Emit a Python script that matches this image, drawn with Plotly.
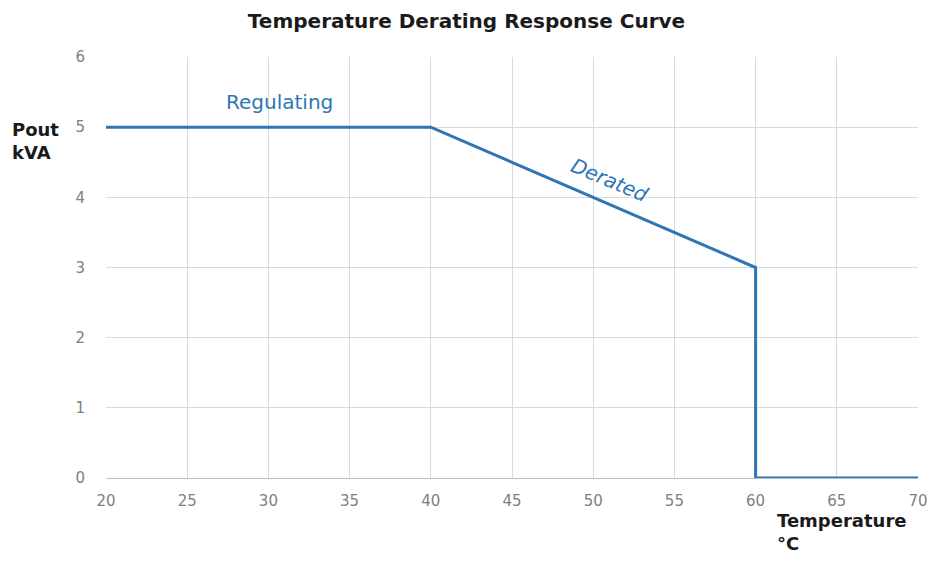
import plotly.graph_objects as go

temperature = [20, 40, 60, 60, 70]
pout_kva = [5, 5, 3, 0, 0]
x_ticks = [20, 25, 30, 35, 40, 45, 50, 55, 60, 65, 70]
y_ticks = [0, 1, 2, 3, 4, 5, 6]

FONT = "'DejaVu Sans', sans-serif"
BLUE = "#2E75B6"
TICK_GREY = "#7f7f7f"

fig = go.Figure()
fig.add_trace(go.Scatter(x=temperature, y=pout_kva, mode="lines",
                         line=dict(color=BLUE, width=3), showlegend=False,
                         hoverinfo="x+y"))

fig.update_layout(
    width=933, height=563,
    margin=dict(l=106, r=15, t=57, b=85),
    paper_bgcolor="white", plot_bgcolor="white",
    font=dict(family=FONT, color=TICK_GREY, size=15),
    title=dict(text="<b>Temperature Derating Response Curve</b>",
               x=0.5, xanchor="center", y=0.962, yanchor="middle",
               font=dict(size=20, color="#1a1a1a", family=FONT)),
    xaxis=dict(range=[20, 70], tickvals=x_ticks, showgrid=True,
               gridcolor="#d9d9d9", gridwidth=1, zeroline=False,
               showline=True, linecolor="#bfbfbf", ticks="", fixedrange=True,
               ticklabelstandoff=9, automargin=False,
               tickfont=dict(size=15, color=TICK_GREY)),
    yaxis=dict(range=[0, 6], tickvals=y_ticks, showgrid=True,
               gridcolor="#d9d9d9", gridwidth=1, zeroline=False,
               showline=False, ticks="", ticklabelstandoff=20, fixedrange=True,
               automargin=False,
               tickfont=dict(size=15, color=TICK_GREY)),
)

fig.add_annotation(x=30.7, y=5.36, text="Regulating", showarrow=False,
                   font=dict(size=20, color=BLUE, family=FONT))
fig.add_annotation(x=51.0, y=4.25, text="<i>Derated</i>", showarrow=False,
                   textangle=23, font=dict(size=20, color=BLUE, family=FONT))
fig.add_annotation(xref="paper", yref="paper", x=-0.118, y=(478 - 117) / 421,
                   xanchor="left", yanchor="top", align="left",
                   text="<b>Pout<br>kVA</b>", showarrow=False,
                   font=dict(size=18, color="#1a1a1a", family=FONT))
fig.add_annotation(xref="paper", yref="paper", x=(775 - 106) / 812, y=(478 - 508) / 421,
                   xanchor="left", yanchor="top", align="left",
                   text="<b>Temperature<br>°C</b>", showarrow=False,
                   font=dict(size=18, color="#1a1a1a", family=FONT))

fig.write_html("out.html", config={"displayModeBar": False},
               post_script="document.body.style.margin='0';")
